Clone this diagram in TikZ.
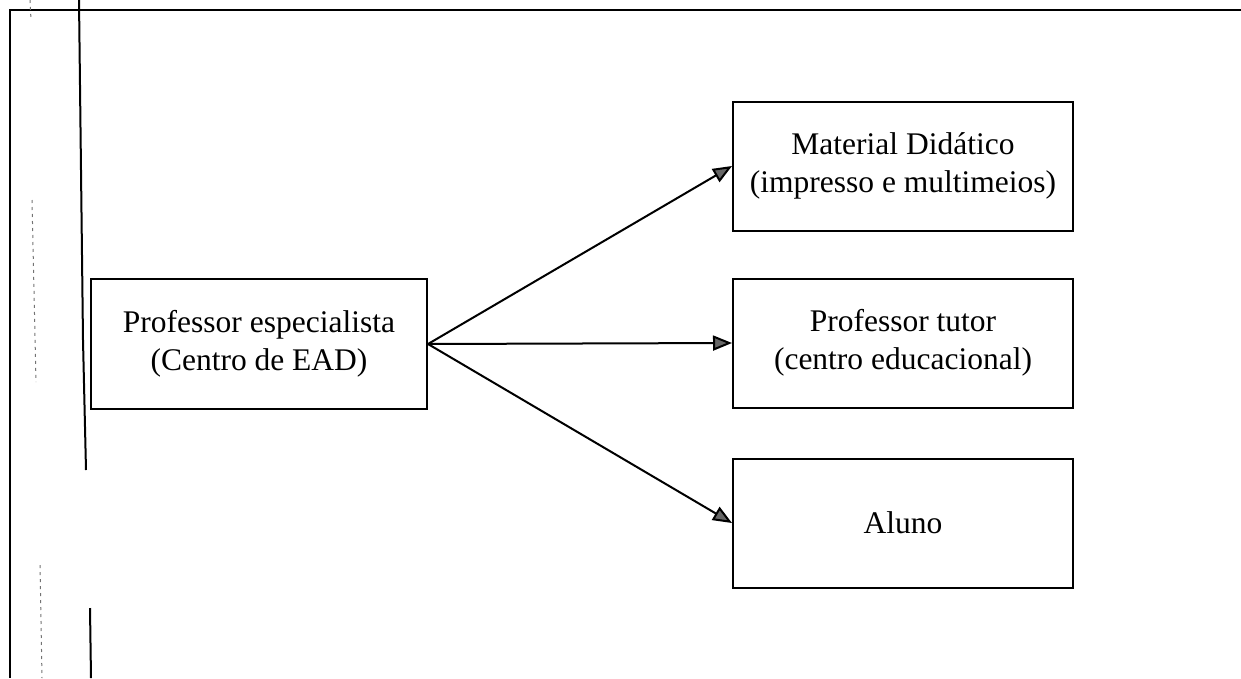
\documentclass[tikz,border=0pt]{standalone}
\usepackage{fontspec}
\setmainfont{Liberation Serif}
\usetikzlibrary{arrows.meta}
\tikzset{caixa/.style={draw,line width=2pt,align=center,inner sep=0pt,
  minimum width=340pt,minimum height=129pt,font=\fontsize{31.5}{38}\selectfont}}
\tikzset{seta/.style={line width=2pt,-{Triangle[length=19pt,width=15pt,fill=black!60]}}}
\tikzset{borda/.style={line width=2pt}}
\tikzset{risco/.style={line width=1pt,black!55,dash pattern=on 3pt off 4pt}}
\begin{document}
\begin{tikzpicture}[x=1pt,y=-1pt]
      \useasboundingbox (0,0) rectangle (1241,678);
      \draw [borda] (9,10) -- (1241,10);
      \draw [borda] (10,10) -- (10,678);
      \draw [borda] (79,0) -- (83,340) -- (86,470);
      \draw [borda] (90,608) -- (91,678);
      \draw [risco] (30,0) -- (31,20);
      \draw [risco] (32,200) -- (36,382);
      \draw [risco] (40,565) -- (42,678);
      \node [caixa,minimum width=336pt,minimum height=130pt] (especialista) at (259,344) {Professor especialista\\(Centro de EAD)};
      \node [caixa] (material) at (903,166) {Material Didático\\(impresso e multimeios)};
      \node [caixa] (tutor) at (903,343) {Professor tutor\\(centro educacional)};
      \node [caixa] (aluno) at (903,523) {Aluno};
      \draw [seta] (especialista.east) -- (material.west);
      \draw [seta] (especialista.east) -- (tutor.west);
      \draw [seta] (especialista.east) -- (aluno.west);
    \end{tikzpicture}
\end{document}
